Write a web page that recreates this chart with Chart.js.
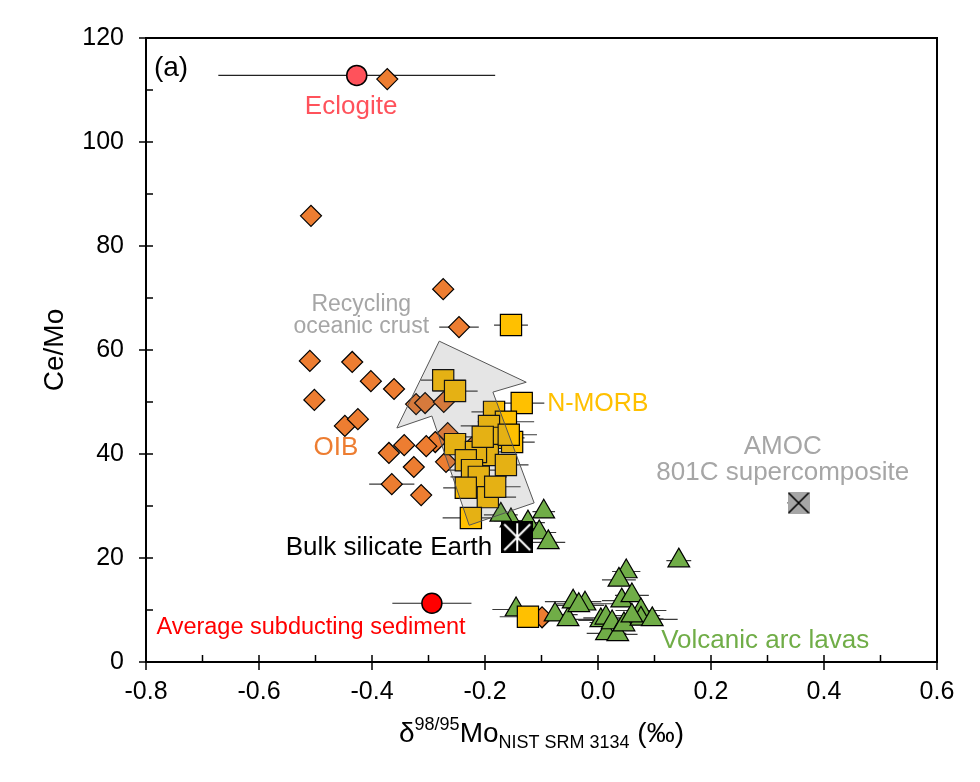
<!DOCTYPE html>
<html>
<head>
<meta charset="utf-8">
<script src="https://cdn.jsdelivr.net/npm/chart.js@4"></script>
<style>
  html, body { margin: 0; padding: 0; background: #fff; }
</style>
</head>
<body>
<canvas id="myChart" width="980" height="782"></canvas>
<script>
// Ce/Mo vs d98/95Mo

const FONT = '"Liberation Sans", Arial, Helvetica, sans-serif';

// OIB (diamonds)
const oibX = [-0.373, -0.508, -0.274, -0.246, -0.510, -0.435, -0.402, -0.361, -0.502, -0.448, -0.425,
  -0.322, -0.306, -0.273, -0.266, -0.288, -0.370, -0.343, -0.304, -0.326, -0.365, -0.313, -0.269, -0.223, -0.099];
const oibY = [112.1, 85.8, 71.7, 64.4, 57.9, 57.7, 54.0, 52.5, 50.4, 45.4, 46.7,
  49.6, 49.8, 50.0, 44.0, 42.3, 40.2, 41.7, 41.5, 37.5, 34.2, 32.1, 38.5, 41.3, 8.6];
const oibErr = [0, 0, 0, 0.035, 0, 0, 0, 0, 0, 0, 0,
  0, 0, 0, 0, 0, 0, 0, 0, 0, 0.04, 0, 0, 0, 0];

// N-MORB (squares)
const morbX = [-0.154, -0.274, -0.253, -0.135, -0.184, -0.163, -0.193, -0.175, -0.152, -0.253, -0.195, -0.216,
  -0.163, -0.234, -0.223, -0.211, -0.234, -0.195, -0.182, -0.225, -0.158, -0.204, -0.124];
const morbY = [64.8, 54.2, 52.1, 49.8, 48.1, 46.2, 45.4, 43.1, 42.3, 41.9, 39.8, 40.4,
  37.9, 38.8, 36.9, 35.6, 33.5, 31.7, 33.7, 27.7, 43.7, 43.3, 8.7];
const morbErr = [0.03, 0.04, 0.04, 0.04, 0.04, 0.05, 0.05, 0.045, 0.04, 0.04, 0.045, 0.05,
  0.04, 0.045, 0.05, 0.05, 0.04, 0.05, 0.045, 0.05, 0.05, 0.04, 0.05];

// Volcanic arc lavas (triangles)
const arcX = [-0.096, -0.124, -0.154, -0.104, -0.088, -0.172, 0.143, 0.050, 0.037, -0.145, -0.076, -0.053, -0.044,
  -0.023, -0.034, 0.005, 0.015, 0.014, 0.025, 0.035, 0.046, 0.042, 0.060, 0.076, 0.076, 0.096, 0.060];
const arcY = [28.9, 26.8, 27.2, 24.9, 23.0, 28.3, 19.5, 17.4, 15.8, 10.1, 9.1, 8.2, 11.6,
  11.2, 10.9, 8.0, 5.5, 8.5, 7.6, 5.3, 7.2, 11.8, 12.8, 9.9, 8.3, 8.2, 8.9];
const arcErr = [0.02, 0.03, 0.03, 0.03, 0.03, 0.03, 0.022, 0.025, 0.03, 0.042, 0.04, 0.045, 0.05,
  0.05, 0.045, 0.04, 0.035, 0.04, 0.04, 0.035, 0.04, 0.035, 0.03, 0.045, 0.04, 0.045, 0.05];

// end-members: [x, y, x error]
const eclogite = [-0.427, 112.8, 0.245];
const sediment = [-0.294, 11.3, 0.07];
const bse = [-0.143, 24.0, 0.02];
const amoc = [0.355, 30.6, 0.02];

// recycling arrow outline
const arrowX = [-0.281, -0.127, -0.186, -0.113, -0.228, -0.294, -0.356];
const arrowY = [61.7, 53.8, 51.9, 30.6, 26.3, 47.3, 45.0];

// axis ticks
const xTickVals = [-0.8, -0.6, -0.4, -0.2, 0.0, 0.2, 0.4, 0.6];
const yTickVals = [0, 20, 40, 60, 80, 100, 120];

const notes = [
  { text: '(a)', x: -0.786, y: 114.2, color: '#000', size: 28, align: 'left' },
  { text: 'Eclogite', x: -0.437, y: 106.7, color: '#FF525B', size: 26 },
  { text: 'Recycling', x: -0.419, y: 68.7, color: '#A6A6A6', size: 23 },
  { text: 'oceanic crust', x: -0.419, y: 64.4, color: '#A6A6A6', size: 23 },
  { text: 'N-MORB', x: -0.090, y: 49.6, color: '#FFC000', size: 25, align: 'left' },
  { text: 'OIB', x: -0.464, y: 41.2, color: '#ED7D31', size: 26 },
  { text: 'AMOC', x: 0.327, y: 41.3, color: '#A6A6A6', size: 26 },
  { text: '801C supercomposite', x: 0.327, y: 36.3, color: '#A6A6A6', size: 26 },
  { text: 'Bulk silicate Earth', x: -0.370, y: 21.9, color: '#000', size: 26 },
  { text: 'Average subducting sediment', x: -0.508, y: 6.7, color: '#FF0000', size: 23.5 },
  { text: 'Volcanic arc lavas', x: 0.296, y: 4.0, color: '#70AD47', size: 26 }
];

function pts(xs, ys) {
  return xs.map((x, i) => ({ x: x, y: ys[i] }));
}

function bseMark() {
  const c = document.createElement('canvas');
  c.width = c.height = 32;
  const g = c.getContext('2d');
  g.fillStyle = '#000';
  g.fillRect(0, 0, 32, 32);
  g.strokeStyle = '#fff';
  g.lineWidth = 2;
  g.beginPath();
  g.moveTo(3, 3); g.lineTo(29, 29);
  g.moveTo(29, 3); g.lineTo(3, 29);
  g.moveTo(16, 2); g.lineTo(16, 30);
  g.stroke();
  return c;
}

function amocMark() {
  const c = document.createElement('canvas');
  c.width = c.height = 22;
  const g = c.getContext('2d');
  g.fillStyle = '#A6A6A6';
  g.fillRect(0, 0, 22, 22);
  g.strokeStyle = '#000';
  g.lineWidth = 1.6;
  g.beginPath();
  g.moveTo(1, 1); g.lineTo(21, 21);
  g.moveTo(21, 1); g.lineTo(1, 21);
  g.stroke();
  return c;
}

const extras = {
  id: 'extras',
  beforeDatasetsDraw(chart) {
    const ctx = chart.ctx, xs = chart.scales.x;
    ctx.save();
    ctx.lineWidth = 1.2;
    chart.data.datasets.forEach((ds, k) => {
      if (!ds.xErr) return;
      const meta = chart.getDatasetMeta(k);
      ctx.strokeStyle = ds.errColor || '#3a3a3a';
      ctx.beginPath();
      meta.data.forEach((pt, i) => {
        const e = ds.xErr[i];
        if (!e) return;
        const v = ds.data[i].x;
        ctx.moveTo(xs.getPixelForValue(v - e), pt.y);
        ctx.lineTo(xs.getPixelForValue(v + e), pt.y);
      });
      ctx.stroke();
    });
    ctx.restore();
  },
  afterDatasetsDraw(chart) {
    const ctx = chart.ctx, a = chart.chartArea;
    const xs = chart.scales.x, ys = chart.scales.y;
    ctx.save();

    // recycling oceanic crust arrow
    ctx.beginPath();
    arrowX.forEach((v, i) => {
      const px = xs.getPixelForValue(v), py = ys.getPixelForValue(arrowY[i]);
      if (i) ctx.lineTo(px, py); else ctx.moveTo(px, py);
    });
    ctx.closePath();
    ctx.fillStyle = 'rgba(110,110,110,0.18)';
    ctx.fill();
    ctx.strokeStyle = '#555';
    ctx.lineWidth = 1;
    ctx.stroke();

    // labels
    ctx.textBaseline = 'middle';
    notes.forEach(n => {
      ctx.font = (n.size || 24) + 'px ' + FONT;
      ctx.fillStyle = n.color;
      ctx.textAlign = n.align || 'center';
      ctx.fillText(n.text, xs.getPixelForValue(n.x), ys.getPixelForValue(n.y));
    });

    // top and right frame
    ctx.strokeStyle = '#000';
    ctx.lineWidth = 2;
    ctx.beginPath();
    ctx.moveTo(a.left, a.top);
    ctx.lineTo(a.right, a.top);
    ctx.lineTo(a.right, a.bottom);
    ctx.stroke();

    // ticks: majors cross the axis, minors point inward
    ctx.lineWidth = 1.5;
    ctx.beginPath();
    xTickVals.forEach((v, i) => {
      const px = xs.getPixelForValue(v);
      ctx.moveTo(px, a.bottom - 7); ctx.lineTo(px, a.bottom + 8);
      if (i < xTickVals.length - 1) {
        const m = xs.getPixelForValue((v + xTickVals[i + 1]) / 2);
        ctx.moveTo(m, a.bottom); ctx.lineTo(m, a.bottom - 7);
      }
    });
    yTickVals.forEach((v, i) => {
      const py = ys.getPixelForValue(v);
      ctx.moveTo(a.left - 7, py); ctx.lineTo(a.left + 7, py);
      if (i < yTickVals.length - 1) {
        const m = ys.getPixelForValue((v + yTickVals[i + 1]) / 2);
        ctx.moveTo(a.left, m); ctx.lineTo(a.left + 7, m);
      }
    });
    ctx.stroke();

    // axis titles
    ctx.fillStyle = '#000';
    ctx.textBaseline = 'alphabetic';
    ctx.textAlign = 'left';
    const parts = [
      { t: '\u03B4', size: 28, dy: 0 },
      { t: '98/95', size: 18, dy: -12 },
      { t: 'Mo', size: 28, dy: 0 },
      { t: 'NIST SRM 3134', size: 18, dy: 6 },
      { t: ' (\u2030)', size: 28, dy: 0 }
    ];
    let total = 0;
    parts.forEach(p => {
      ctx.font = p.size + 'px ' + FONT;
      p.w = ctx.measureText(p.t).width;
      total += p.w;
    });
    let x = (a.left + a.right) / 2 - total / 2;
    parts.forEach(p => {
      ctx.font = p.size + 'px ' + FONT;
      ctx.fillText(p.t, x, 742 + p.dy);
      x += p.w;
    });

    ctx.translate(55, (a.top + a.bottom) / 2);
    ctx.rotate(-Math.PI / 2);
    ctx.textAlign = 'center';
    ctx.textBaseline = 'middle';
    ctx.font = '28px ' + FONT;
    ctx.fillText('Ce/Mo', 0, 0);
    ctx.restore();
  }
};

const ctx = document.getElementById('myChart');

new Chart(ctx, {
  type: 'scatter',
  data: {
    datasets: [
      {
        label: 'Bulk silicate Earth',
        data: [{ x: bse[0], y: bse[1] }],
        xErr: [bse[2]],
        pointStyle: bseMark(),
        pointRadius: 16
      },
      {
        label: 'AMOC 801C supercomposite',
        data: [{ x: amoc[0], y: amoc[1] }],
        xErr: [amoc[2]],
        pointStyle: amocMark(),
        pointRadius: 11
      },
      {
        label: 'Eclogite',
        data: [{ x: eclogite[0], y: eclogite[1] }],
        xErr: [eclogite[2]],
        errColor: '#222',
        pointStyle: 'circle',
        pointRadius: 10,
        backgroundColor: '#FF525B',
        borderColor: '#000',
        borderWidth: 1.5
      },
      {
        label: 'Average subducting sediment',
        data: [{ x: sediment[0], y: sediment[1] }],
        xErr: [sediment[2]],
        errColor: '#222',
        pointStyle: 'circle',
        pointRadius: 10,
        backgroundColor: '#FF0000',
        borderColor: '#000',
        borderWidth: 1.5
      },
      {
        label: 'N-MORB',
        data: pts(morbX, morbY),
        xErr: morbErr,
        pointStyle: 'rect',
        pointRadius: 15,
        backgroundColor: '#FFC000',
        borderColor: '#000',
        borderWidth: 1.2
      },
      {
        label: 'Volcanic arc lavas',
        data: pts(arcX, arcY),
        xErr: arcErr,
        pointStyle: 'triangle',
        pointRadius: 12.5,
        backgroundColor: '#70AD47',
        borderColor: '#000',
        borderWidth: 1.2
      },
      {
        label: 'OIB',
        data: pts(oibX, oibY),
        xErr: oibErr,
        pointStyle: 'rectRot',
        pointRadius: 10.5,
        backgroundColor: '#ED7D31',
        borderColor: '#000',
        borderWidth: 1.2
      }
    ]
  },
  options: {
    responsive: false,
    animation: false,
    devicePixelRatio: 1,
    layout: { padding: { left: 0, right: 43, top: 38, bottom: 0 } },
    plugins: {
      legend: { display: false },
      tooltip: { enabled: false }
    },
    scales: {
      x: {
        type: 'linear',
        min: -0.8,
        max: 0.6,
        afterBuildTicks: s => { s.ticks = xTickVals.map(v => ({ value: v })); },
        afterFit: s => { s.height = 120; },
        grid: { drawOnChartArea: false, drawTicks: false },
        border: { color: '#000', width: 2 },
        ticks: {
          padding: 15,
          color: '#000',
          font: { family: FONT, size: 25 },
          callback: v => (Math.abs(v) < 1e-9 ? 0 : v).toFixed(1)
        }
      },
      y: {
        type: 'linear',
        min: 0,
        max: 120,
        afterBuildTicks: s => { s.ticks = yTickVals.map(v => ({ value: v })); },
        afterFit: s => { s.width = 146; },
        grid: { drawOnChartArea: false, drawTicks: false },
        border: { color: '#000', width: 2 },
        ticks: {
          padding: 22,
          color: '#000',
          font: { family: FONT, size: 25 },
          callback: v => String(v)
        }
      }
    }
  },
  plugins: [extras]
});
</script>
</body>
</html>
